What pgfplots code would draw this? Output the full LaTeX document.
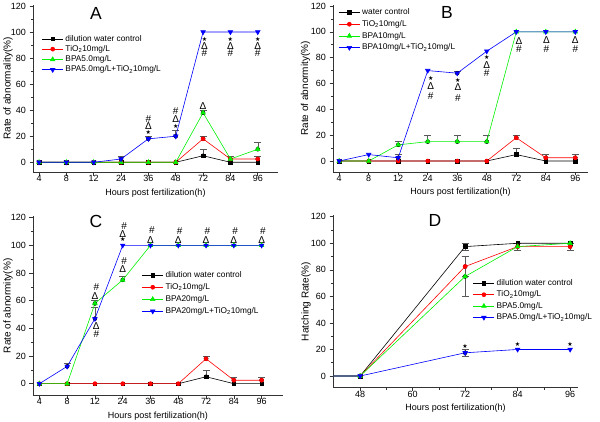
\documentclass[border=0pt]{standalone}
\usepackage{fontspec}
\setmainfont{Liberation Sans}
\newfontfamily\djv{DejaVu Sans}
\usepackage{pgfplots}
\pgfplotsset{compat=1.18}
\definecolor{cR}{RGB}{255,0,0}
\definecolor{cG}{RGB}{0,240,0}
\definecolor{cB}{RGB}{0,0,255}
\newcommand{\st}{{\djv\fontsize{6}{6}\selectfont ★}}
\newcommand{\dl}{{\fontsize{10}{10}\selectfont Δ}}
\newcommand{\hs}{{\fontsize{10}{10}\selectfont \#}}
\tikzset{ann/.style={inner sep=0pt}}
\pgfplotsset{
 panel/.style={
  scale only axis, anchor=south west,
  axis x line*=bottom, axis y line*=left,
  axis line style={-, line width=0.7pt, black!80},
  tick align=outside, major tick length=3.5pt, minor tick length=2pt,
  tick style={black!80, line width=0.6pt},
  ytick={0,20,...,120}, minor y tick num=1, ymax=121,
  tick label style={font=\fontsize{9}{10}\selectfont},
  label style={font=\fontsize{9}{10}\selectfont},
  every axis y label/.style={rotate=90, anchor=center},
  /pgf/number format/assume math mode=true,
  xlabel={Hours post fertilization(h)},
  xticklabel style={yshift=4pt},
  legend cell align=left,
  legend style={draw=none, fill=none, font=\fontsize{8.3}{9}\selectfont, anchor=north west, inner sep=0pt,
    nodes={inner sep=0pt, text height=6pt, text depth=1.6pt},
    /tikz/every odd column/.append style={column sep=2pt}},
  legend image code/.code={\draw[mark repeat=2,mark phase=2] plot coordinates {(0pt,0pt)(10.5pt,0pt)(21pt,0pt)};},
 },
 cat/.style={xtick={0,...,8}, xticklabels={4,8,12,24,36,48,72,84,96}},
 sK/.style={black, line width=0.6pt, mark=square*, mark size=1.8pt, mark options={solid}},
 sR/.style={cR, line width=0.6pt, mark=*, mark size=2pt, mark options={solid}},
 sG/.style={cG, line width=0.6pt, mark=triangle*, mark size=2.6pt, mark options={solid}},
 sB/.style={cB, line width=0.6pt, mark=triangle*, mark size=2.6pt, mark options={solid, rotate=180}},
 errb/.style={forget plot, only marks, mark=none,
   /pgfplots/error bars/y dir=plus, /pgfplots/error bars/y explicit,
   /pgfplots/error bars/error bar style={black!65, line width=0.5pt},
   /pgfplots/error bars/error mark options={black!65, rotate=90, mark size=3.5pt, line width=0.5pt}},
 errd/.style={errb, /pgfplots/error bars/y dir=both},
}
\begin{document}
\begin{tikzpicture}
\useasboundingbox (0,0) rectangle (600pt,-422pt);
% ---------------- A
\begin{axis}[panel, cat, at={(33pt,-172.3pt)}, width=245pt, height=167.6pt,
  xmin=-0.22, xmax=8.74, ymin=-7.7, ylabel={Rate of abnormality(\%)},
  ylabel style={at={(axis description cs:-0.102,0.5)}},
  legend style={at={(axis description cs:0.0355,0.82)}, row sep=2.7pt}]
\addplot[errb] coordinates {(6,5)+-(0,5) (6,18)+-(0,2) (7,2.5)+-(0,2.5) (8,2.5)+-(0,2.5) (6,38)+-(0,2) (8,10)+-(0,5) (3,2.5)+-(0,2.5) (4,18)+-(0,2) (5,20)+-(0,4.5)};
\addplot[sK] coordinates {(0,0)(1,0)(2,0)(3,0)(4,0)(5,0)(6,5)(7,0)(8,0)};
\addlegendentry{dilution water control}
\addplot[sR] coordinates {(0,0)(1,0)(2,0)(3,0)(4,0)(5,0)(6,18)(7,2.5)(8,2.5)};
\addlegendentry{TiO\textsubscript{2}10mg/L}
\addplot[sG] coordinates {(0,0)(1,0)(2,0)(3,0)(4,0)(5,0)(6,38)(7,2.5)(8,10)};
\addlegendentry{BPA5.0mg/L}
\addplot[sB] coordinates {(0,0)(1,0)(2,0)(3,2.5)(4,18)(5,20)(6,100)(7,100)(8,100)};
\addlegendentry{BPA5.0mg/L+TiO\textsubscript{2}10mg/L}
\node[ann] at (axis cs:4,23) {\st}; \node[ann] at (axis cs:4,28) {\dl}; \node[ann] at (axis cs:4,33.5) {\hs};
\node[ann] at (axis cs:5,27.5) {\st}; \node[ann] at (axis cs:5,33) {\dl}; \node[ann] at (axis cs:5,39) {\hs};
\node[ann] at (axis cs:6.05,94.7) {\st}; \node[ann] at (axis cs:6.05,89.6) {\dl}; \node[ann] at (axis cs:6.05,83.5) {\hs};
\node[ann] at (axis cs:7,94.7) {\st}; \node[ann] at (axis cs:7,89.6) {\dl}; \node[ann] at (axis cs:7,83.5) {\hs};
\node[ann] at (axis cs:8,94.7) {\st}; \node[ann] at (axis cs:8,89.6) {\dl}; \node[ann] at (axis cs:8,83.5) {\hs};
\node[ann] at (axis cs:6,43) {\dl};
\end{axis}
% ---------------- B
\begin{axis}[panel, cat, at={(333pt,-172pt)}, width=255pt, height=167.3pt,
  xmin=-0.21, xmax=8.43, ymin=-8.5, ylabel={Rate of abnormity(\%)},
  ylabel style={at={(axis description cs:-0.108,0.5)}},
  legend style={at={(axis description cs:0.021,0.977)}, row sep=4.1pt}]
\addplot[errb] coordinates {(6,5)+-(0,5) (6,18)+-(0,2) (7,2.5)+-(0,2.5) (8,2.5)+-(0,2.5) (2,12.5)+-(0,2.5) (3,15)+-(0,5) (4,15)+-(0,5) (5,15)+-(0,5) (2,2.5)+-(0,2.5) (4,68)+-(0,1.5)};
\addplot[sK] coordinates {(0,0)(1,0)(2,0)(3,0)(4,0)(5,0)(6,5)(7,0)(8,0)};
\addlegendentry{water control}
\addplot[sR] coordinates {(0,0)(1,0)(2,0)(3,0)(4,0)(5,0)(6,18)(7,2.5)(8,2.5)};
\addlegendentry{TiO\textsubscript{2}10mg/L}
\addplot[sG] coordinates {(0,0)(1,0)(2,12.5)(3,15)(4,15)(5,15)(6,100)(7,100)(8,100)};
\addlegendentry{BPA10mg/L}
\addplot[sB] coordinates {(0,0)(1,5)(2,2.5)(3,70)(4,68)(5,85)(6,100)(7,100)(8,100)};
\addlegendentry{BPA10mg/L+TiO\textsubscript{2}10mg/L}
\node[ann] at (axis cs:3.1,64) {\st}; \node[ann] at (axis cs:3.1,58) {\dl}; \node[ann] at (axis cs:3.1,50) {\hs};
\node[ann] at (axis cs:4.02,62.8) {\st}; \node[ann] at (axis cs:4.02,57) {\dl}; \node[ann] at (axis cs:4.02,49) {\hs};
\node[ann] at (axis cs:5,80) {\st}; \node[ann] at (axis cs:5,74) {\dl}; \node[ann] at (axis cs:5,68) {\hs};
\node[ann] at (axis cs:6.09,93) {\dl}; \node[ann] at (axis cs:6.09,87) {\hs};
\node[ann] at (axis cs:7.02,93.6) {\dl}; \node[ann] at (axis cs:7.02,87) {\hs};
\node[ann] at (axis cs:8,93.6) {\dl}; \node[ann] at (axis cs:8,87) {\hs};
\end{axis}
% ---------------- C
\begin{axis}[panel, cat, at={(33pt,-395.3pt)}, width=250pt, height=179pt,
  xmin=-0.23, xmax=8.77, ymin=-8.4, ylabel={Rate of abnormity(\%)},
  ylabel style={at={(axis description cs:-0.1,0.5)}},
  legend style={at={(axis description cs:0.435,0.693)}, row sep=4.4pt}]
\addplot[errb] coordinates {(6,5)+-(0,5) (6,18)+-(0,2) (7,2.5)+-(0,2.5) (8,2.5)+-(0,2.5) (2,58)+-(0,2) (3,75)+-(0,3) (1,12.5)+-(0,2.5) (2,47)+-(0,8)};
\addplot[sK] coordinates {(0,0)(1,0)(2,0)(3,0)(4,0)(5,0)(6,5)(7,0)(8,0)};
\addlegendentry{dilution water control}
\addplot[sR] coordinates {(0,0)(1,0)(2,0)(3,0)(4,0)(5,0)(6,18)(7,2.5)(8,2.5)};
\addlegendentry{TiO\textsubscript{2}10mg/L}
\addplot[sG] coordinates {(0,0)(1,0)(2,58)(3,75)(4,100)(5,100)(6,100)(7,100)(8,100)};
\addlegendentry{BPA20mg/L}
\addplot[sB] coordinates {(0,0)(1,12.5)(2,47)(3,100)(4,100)(5,100)(6,100)(7,100)(8,100)};
\addlegendentry{BPA20mg/L+TiO\textsubscript{2}10mg/L}
\node[ann] at (axis cs:2,63.4) {\dl}; \node[ann] at (axis cs:2.05,70) {\hs};
\node[ann] at (axis cs:2.05,41.7) {\dl}; \node[ann] at (axis cs:2.05,36) {\hs};
\node[ann] at (axis cs:3,104.3) {\st}; \node[ann] at (axis cs:3,108) {\dl}; \node[ann] at (axis cs:3.05,114) {\hs};
\node[ann] at (axis cs:3,82.6) {\dl}; \node[ann] at (axis cs:3.05,88.7) {\hs};
\node[ann] at (axis cs:4,104) {\dl}; \node[ann] at (axis cs:4.05,111) {\hs};
\node[ann] at (axis cs:5,103.6) {\dl}; \node[ann] at (axis cs:5.05,110) {\hs};
\node[ann] at (axis cs:6,103.6) {\dl}; \node[ann] at (axis cs:6.05,110) {\hs};
\node[ann] at (axis cs:7,103.6) {\dl}; \node[ann] at (axis cs:7.05,110) {\hs};
\node[ann] at (axis cs:8,103.6) {\dl}; \node[ann] at (axis cs:8.05,110) {\hs};
\end{axis}
% ---------------- D
\begin{axis}[panel, at={(333pt,-387.7pt)}, width=245pt, height=172.3pt,
  xmin=41.8, xmax=97.8, ymin=-8.8, xtick={48,60,72,84,96}, minor x tick num=1,
  ylabel={Hatching Rate(\%)},
  ylabel style={at={(axis description cs:-0.11,0.5)}},
  legend style={at={(axis description cs:0.571,0.629)}, row sep=3.8pt}]
\addplot[errd] coordinates {(72,97.5)+-(0,2.5) (72,82.5)+-(0,7.5) (96,97.5)+-(0,2.5) (72,75)+-(0,15) (84,97.5)+-(0,2.5) (72,17.5)+-(0,2.5)};
\addplot[sK] coordinates {(36,0)(48,0)(72,97.5)(84,100)(96,100)};
\addlegendentry{dilution water control}
\addplot[sR] coordinates {(36,0)(48,0)(72,82.5)(84,97.5)(96,97.5)};
\addlegendentry{TiO\textsubscript{2}10mg/L}
\addplot[sG] coordinates {(36,0)(48,0)(72,75)(84,97.5)(96,100)};
\addlegendentry{BPA5.0mg/L}
\addplot[sB] coordinates {(36,0)(48,0)(72,17.5)(84,20)(96,20)};
\addlegendentry{BPA5.0mg/L+TiO\textsubscript{2}10mg/L}
\node[ann] at (axis cs:72,22.5) {\st};
\node[ann] at (axis cs:84,24) {\st};
\node[ann] at (axis cs:96,24) {\st};
\end{axis}
\node[font=\fontsize{17.5}{18}\selectfont] at (96pt,-13pt) {A};
\node[font=\fontsize{17.5}{18}\selectfont] at (447pt,-12pt) {B};
\node[font=\fontsize{17.5}{18}\selectfont] at (96pt,-221pt) {C};
\node[font=\fontsize{17.5}{18}\selectfont] at (435pt,-220pt) {D};
\end{tikzpicture}
\end{document}
